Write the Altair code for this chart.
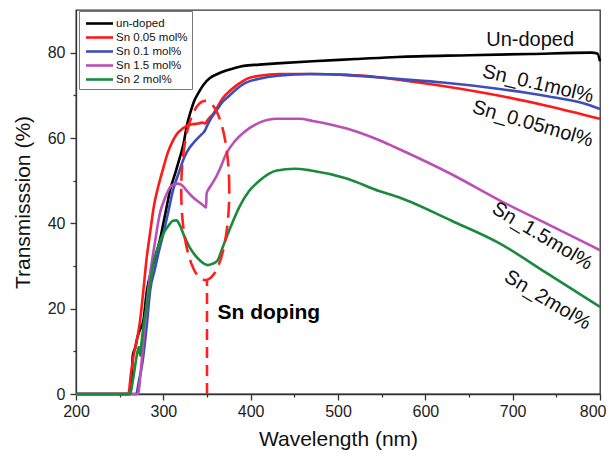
import altair as alt
import pandas as pd
import numpy as np

FONT = "Liberation Sans"

series_names = ["un-doped", "Sn 0.05 mol%", "Sn 0.1 mol%", "Sn 1.5 mol%", "Sn 2 mol%"]
series_colors = ["#000000", "#ff1a1a", "#3c4fb8", "#bb4fb5", "#1a8a3c"]

black_wl = [200, 262, 264, 265, 268, 270, 273, 277, 281, 288, 296, 302, 308, 314, 319, 323, 327, 331, 335, 340,
            346, 353, 362, 372, 382, 392, 410, 430, 471, 520, 568, 650, 720, 790, 797, 800]
black_T = [0, 0, 4, 9, 11, 13, 15, 17, 24, 30, 36, 42, 48, 52, 55.5, 58.5, 63, 66, 68.5, 70.5,
           72.5, 74, 75, 75.8, 76.4, 76.9, 77.2, 77.5, 78, 78.5, 79, 79.4, 79.7, 80, 79.8, 78]

red_wl = [200, 260, 263, 266, 270, 273, 277, 281, 285, 289, 294, 300, 305, 311, 317, 322, 327, 333, 340, 345,
          348, 350, 353, 357, 362, 368, 376, 385, 395, 410, 433, 469, 508, 540, 571, 620, 685, 740, 800]
red_T = [0, 0, 5, 9, 13, 16.6, 24, 32, 38, 43.8, 48.5, 53, 56.5, 59.4, 61.3, 62.2, 62.9, 63.2, 63.4, 63.6,
         63.4, 64, 64.8, 65.6, 67.3, 69.3, 71, 72.5, 73.8, 74.6, 75, 75, 74.8, 74.4, 73.6, 72.2, 69.9, 67.5, 64.5]

blue_wl = [200, 269, 272, 275, 277, 281, 285, 290, 295, 300, 306, 311, 318, 324, 330, 336, 342, 346, 347.5, 350,
           355, 362, 368, 375, 384, 394, 410, 431, 469, 508, 540, 571, 620, 685, 740, 780, 800]
blue_T = [0, 0, 3, 6, 8.8, 16, 24.4, 29, 33.5, 37.6, 43, 47.7, 52, 55.5, 57.7, 59.2, 60.5, 61.3, 61.7, 62.8,
          64.7, 66.8, 68.5, 69.8, 71.5, 72.9, 73.9, 74.6, 75, 74.8, 74.3, 73.8, 73, 71.5, 69.8, 68.2, 66.8]

purple_wl = [200, 271, 274, 277, 281, 285, 290, 296, 302, 308, 313, 317, 322, 327, 333, 338, 342, 346, 349, 349.5,
             353, 358, 364, 372, 382, 392, 410, 430, 456, 471, 510, 548, 571, 630, 685, 740, 800]
purple_T = [0, 0, 5, 12, 21, 28.3, 35, 42.3, 46, 48.5, 49.2, 49.3, 48.8, 47.6, 46.3, 45.4, 44.8, 44.2, 43.7, 47,
            48.4, 50, 52.4, 56.3, 59.3, 61.3, 63.6, 64.5, 64.5, 64, 62.2, 59.4, 57.3, 51.5, 45.4, 39.8, 33.7]

green_wl = [200, 262, 265, 268, 270, 272, 273.5, 275, 278, 281, 285, 288.5, 294, 300, 306, 311, 315, 319, 324, 330,
            336, 342, 347, 351, 356, 362, 368, 374, 380, 388, 398, 410, 430, 450, 469, 510, 548, 571, 630, 685, 740, 800]
green_T = [0, 0, 3, 7, 9.5, 11, 9, 12, 17, 20.5, 26, 30.6, 34.5, 37.6, 39.5, 40.6, 40.7, 39.5, 37, 34.4,
           32.6, 31.3, 30.5, 30.2, 30.5, 31.3, 34.4, 37.6, 40.6, 44.2, 47.5, 50, 52.4, 52.8, 52.4, 50.5, 47.5, 46, 40.6, 35.3, 28.2, 20.4]

curve_labels = ["Un-doped", "Sn_0.1mol%", "Sn_0.05mol%", "Sn_1.5mol%", "Sn_2mol%"]
curve_label_wl = [720, 729, 723, 734, 740]
curve_label_T = [82.9, 72.7, 63.3, 37, 22]
curve_label_angle = [0, 13, 16, 31, 31]

x_major = [200, 300, 400, 500, 600, 700, 800]
x_minor = [250, 350, 450, 550, 650, 750]
y_major = [0, 20, 40, 60, 80]
y_minor = [10, 30, 50, 70]

marker_wl = [350]
marker_T = [0]
marker_T2 = [26.5]
ellipse_center = (348, 47.7)
ellipse_radii = (27.5, 21)

annot_text = ["Sn doping"]
annot_wl = [362]
annot_T = [19]

all_wl = [black_wl, red_wl, blue_wl, purple_wl, green_wl]
all_T = [black_T, red_T, blue_T, purple_T, green_T]
rows = []
for name, wls, ts in zip(series_names, all_wl, all_T):
    for i, (w, t) in enumerate(zip(wls, ts)):
        rows.append({"series": name, "wl": w, "T": t, "idx": i})
df = pd.DataFrame(rows)

xs = alt.Scale(domain=[200, 800], nice=False, zero=False)
ys = alt.Scale(domain=[0, 90], nice=False, zero=False)

last_x = x_major[-1]
x_axis = alt.Axis(values=x_major, orient="bottom", title="Wavelength (nm)", tickSize=6, labelPadding=3,
                  titlePadding=9, format="d", labelFlush=False,
                  labelAlign={"condition": {"test": f"datum.value === {last_x}", "value": "right"},
                              "value": "center"},
                  labelOffset={"condition": {"test": f"datum.value === {last_x}", "value": 6},
                               "value": 0})
y_axis = alt.Axis(values=y_major, orient="left", title="Transmisssion (%)", tickSize=6, labelPadding=5,
                  titlePadding=14, format="d", labelFlush=False)

color = alt.Color("series:N", scale=alt.Scale(domain=series_names, range=series_colors),
                  legend=alt.Legend(orient="none", legendX=3, legendY=1, title=None,
                                    symbolType="M-2,0H2", symbolSize=182, symbolStrokeWidth=2.6,
                                    symbolOffset=8, labelOffset=8,
                                    labelFontSize=11.5, labelFont=FONT, labelColor="#111",
                                    strokeColor="#777", fillColor="white", padding=4,
                                    rowPadding=0))

layers = []
for k, name in enumerate(series_names):
    sub = df[df.series == name]
    ch = alt.Chart(sub).mark_line(strokeWidth=2.6, interpolate="monotone").encode(
        x=alt.X("wl:Q", scale=xs, axis=x_axis if k == 0 else None),
        y=alt.Y("T:Q", scale=ys, axis=y_axis if k == 0 else None),
        color=color,
        order="idx:Q",
    )
    layers.append(ch)

minor = alt.Chart(pd.DataFrame({"wl": [200], "T": [0]})).mark_point(opacity=0).encode(
    x=alt.X("wl:Q", scale=xs, axis=alt.Axis(values=x_minor, orient="bottom", labels=False, tickSize=3,
                                            domain=False, title=None)),
    y=alt.Y("T:Q", scale=ys, axis=alt.Axis(values=y_minor, orient="left", labels=False, tickSize=3,
                                           domain=False, title=None)),
)

rule = alt.Chart(pd.DataFrame({"wl": marker_wl, "T": marker_T, "T2": marker_T2})).mark_rule(
    color="#ff2020", strokeWidth=2.6, strokeDash=[11, 7]).encode(
    x=alt.X("wl:Q", scale=xs, axis=None), y=alt.Y("T:Q", scale=ys, axis=None), y2="T2:Q")

t = np.linspace(0, 2 * np.pi, 121)
ell = pd.DataFrame({"wl": ellipse_center[0] + ellipse_radii[0] * np.cos(t),
                    "T": ellipse_center[1] + ellipse_radii[1] * np.sin(t),
                    "idx": np.arange(len(t))})
ellipse = alt.Chart(ell).mark_line(color="#ff2020", strokeWidth=2.6, strokeDash=[16, 8]).encode(
    x=alt.X("wl:Q", scale=xs, axis=None), y=alt.Y("T:Q", scale=ys, axis=None), order="idx:Q")

lab = alt.Chart(pd.DataFrame({"text": curve_labels, "wl": curve_label_wl, "T": curve_label_T,
                              "angle": curve_label_angle})).mark_text(
    font=FONT, fontSize=20, color="#111", align="center", baseline="middle").encode(
    x=alt.X("wl:Q", scale=xs, axis=None), y=alt.Y("T:Q", scale=ys, axis=None), text="text:N",
    angle=alt.Angle("angle:Q", scale=None))

annot = alt.Chart(pd.DataFrame({"text": annot_text, "wl": annot_wl, "T": annot_T})).mark_text(
    font=FONT, fontSize=21, fontWeight="bold", color="#000", align="left", baseline="middle").encode(
    x=alt.X("wl:Q", scale=xs, axis=None), y=alt.Y("T:Q", scale=ys, axis=None), text="text:N")

chart = alt.layer(*layers, minor, rule, ellipse, lab, annot).resolve_axis(
    x="independent", y="independent").properties(
    width=524, height=384,
    autosize=alt.AutoSizeParams(type="none"),
    padding={"left": 68, "top": 2, "right": 7, "bottom": 60},
).configure_view(stroke="#333", strokeWidth=1.3).configure_axis(
    grid=False, domainColor="#333", tickColor="#333", labelColor="#222", titleColor="#111",
    labelFont=FONT, titleFont=FONT, labelFontSize=16, titleFontSize=21, titleFontWeight="normal",
    domainWidth=1.3, tickWidth=1.3)

chart.save("out.html", embed_options={"renderer": "svg", "actions": False})
